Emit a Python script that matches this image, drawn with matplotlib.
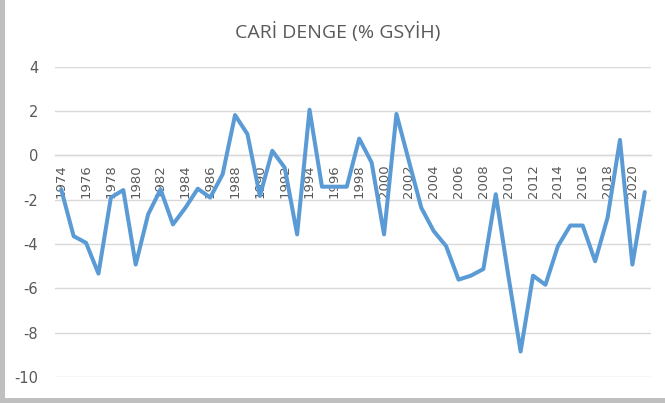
import matplotlib
matplotlib.use("Agg")
import matplotlib.pyplot as plt
from matplotlib.patches import Rectangle

years = list(range(1974, 2022))
cari_denge = [-1.54, -3.65, -3.95, -5.34, -1.91, -1.57, -4.93, -2.67, -1.54, -3.12,
              -2.37, -1.51, -1.91, -0.86, 1.81, 0.95, -1.84, 0.20, -0.56, -3.57,
              2.05, -1.42, -1.42, -1.42, 0.75, -0.33, -3.57, 1.86, -0.26, -2.37,
              -3.42, -4.10, -5.61, -5.43, -5.13, -1.76, -5.40, -8.85, -5.43, -5.84,
              -4.10, -3.17, -3.17, -4.78, -2.82, 0.69, -4.93, -1.66]
y_ticks = [4, 2, 0, -2, -4, -6, -8, -10]
title = "CARİ DENGE (% GSYİH)"

W, H = 665, 403
fig = plt.figure(figsize=(W / 100, H / 100), dpi=100)
fig.patch.set_facecolor("white")

# gray frame strips (left and bottom)
fig.patches.append(Rectangle((0, 0), 5 / W, 1, transform=fig.transFigure,
                             facecolor="#BFBFBF", edgecolor="none", zorder=0))
fig.patches.append(Rectangle((0, 0), 1, 5 / H, transform=fig.transFigure,
                             facecolor="#BFBFBF", edgecolor="none", zorder=0))

left, right = 55 / W, 651 / W
bottom, top = (H - 377) / H, (H - 66.5) / H
ax = fig.add_axes([left, bottom, right - left, top - bottom])

x = list(range(len(years)))
ax.plot(x, cari_denge, color="#5B9BD5", linewidth=2.9, solid_joinstyle="round",
        solid_capstyle="round", zorder=3)

ax.set_xlim(-0.5, len(years) - 0.5)
ax.set_ylim(-10, 4)
ax.grid(axis="y", color="#D9D9D9", linewidth=1.0)
ax.set_axisbelow(True)

for s in ["top", "right", "left"]:
    ax.spines[s].set_visible(False)
ax.spines["bottom"].set_position(("data", 0))
ax.spines["bottom"].set_color("#D9D9D9")
ax.spines["bottom"].set_linewidth(1.0)

ax.set_yticks(y_ticks)
ax.set_yticklabels([str(v) for v in y_ticks])
ax.set_xticks(x[::2])
ax.set_xticklabels([str(y) for y in years[::2]])

ax.tick_params(axis="y", length=0, pad=12, labelsize=10.5, labelcolor="#595959")
ax.tick_params(axis="x", length=0, pad=6.5, labelsize=9.5, labelcolor="#595959",
               labelrotation=90)
for lab in ax.get_xticklabels():
    lab.set_va("top")
    lab.set_ha("center")

fig.text(338 / W, 1 - 32 / H, title, ha="center", va="center", fontsize=14,
         color="#595959", family="Open Sans")

fig.savefig("out.png", dpi=100)
